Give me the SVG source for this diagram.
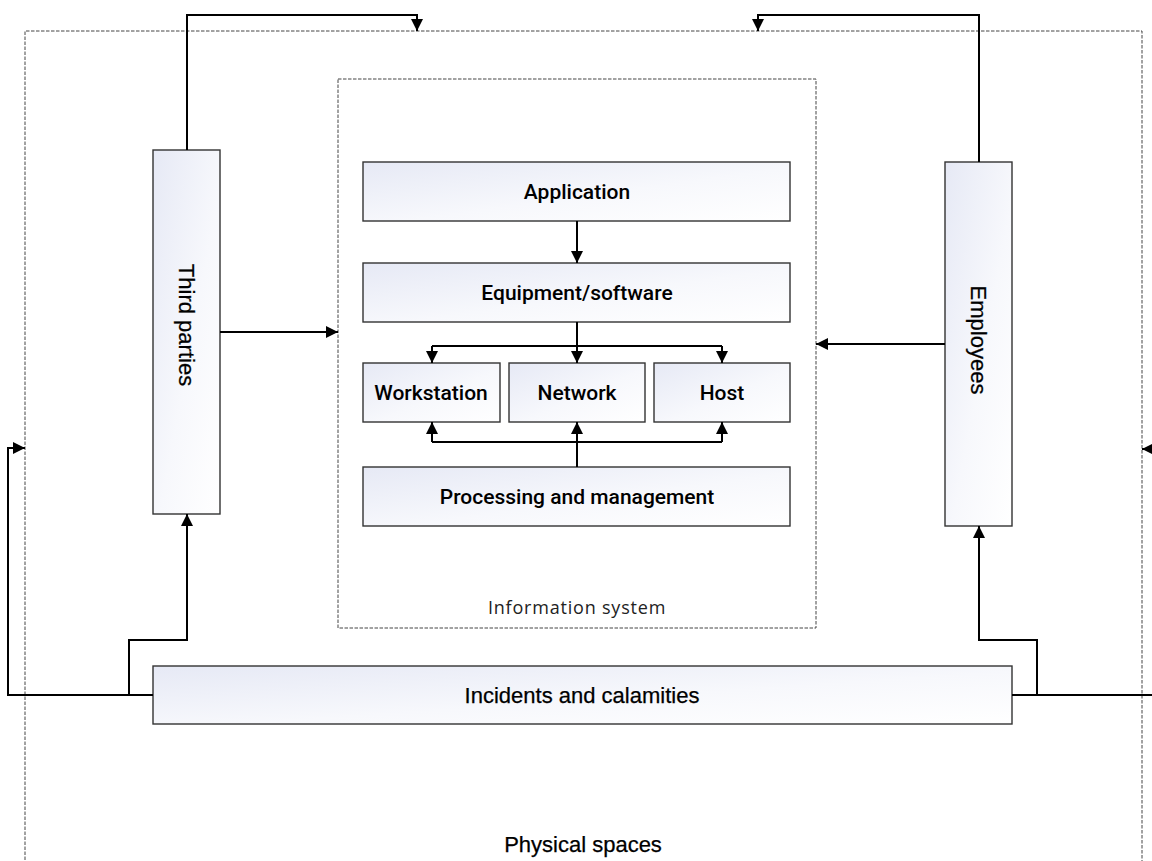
<svg xmlns="http://www.w3.org/2000/svg" width="1152" height="861" viewBox="0 0 1152 861">
  <defs>
    <linearGradient id="g" x1="0" y1="0" x2="1" y2="1">
      <stop offset="0" stop-color="#e6e9f5"/>
      <stop offset="0.55" stop-color="#f7f8fc"/>
      <stop offset="1" stop-color="#ffffff"/>
    </linearGradient>
    <marker id="ah" viewBox="0 0 12 12" markerUnits="userSpaceOnUse" markerWidth="12" markerHeight="12" refX="12" refY="6" orient="auto">
      <path d="M0,0 L12,6 L0,12 z" fill="#000"/>
    </marker>
    <style>
      .box { fill: url(#g); stroke: #333; stroke-width: 1.4; }
      .dash { fill: none; stroke: #444; stroke-width: 1; stroke-dasharray: 3.5 1.5; }
      .c { fill: none; stroke: #000; stroke-width: 2; }
      .a { marker-end: url(#ah); }
      .lbl { font-family: Roboto, "Liberation Sans", sans-serif; font-weight: 500; font-size: 21px; fill: #000; text-anchor: middle; }
      .lbl2 { font-family: "Liberation Sans", Arial, sans-serif; font-size: 22px; fill: #000; text-anchor: middle; stroke: #000; stroke-width: 0.25; }
      .small { font-family: "Open Sans", "Liberation Sans", sans-serif; font-size: 18px; letter-spacing: 0.8px; fill: #222; text-anchor: middle; }
    </style>
  </defs>

  <g id="physical-spaces">
    <path class="dash" d="M25,870 V31 H1142 V870"/>
    <text class="lbl2" x="583" y="852" font-size="21">Physical spaces</text>
  </g>

  <g id="information-system">
    <rect class="dash" x="338" y="79" width="478" height="549"/>
    <text class="small" x="577" y="614">Information system</text>
  </g>

  <g id="application">
    <rect class="box" x="363" y="162" width="427" height="59"/>
    <text class="lbl" x="577" y="199">Application</text>
  </g>
  <g id="equipment-software">
    <rect class="box" x="363" y="263" width="427" height="59"/>
    <text class="lbl" x="577" y="300">Equipment/software</text>
  </g>
  <g id="workstation">
    <rect class="box" x="363" y="363" width="137" height="59"/>
    <text class="lbl" x="431" y="400">Workstation</text>
  </g>
  <g id="network">
    <rect class="box" x="509" y="363" width="136" height="59"/>
    <text class="lbl" x="577" y="400">Network</text>
  </g>
  <g id="host">
    <rect class="box" x="654" y="363" width="136" height="59"/>
    <text class="lbl" x="722" y="400">Host</text>
  </g>
  <g id="processing-management">
    <rect class="box" x="363" y="467" width="427" height="59"/>
    <text class="lbl" x="577" y="504">Processing and management</text>
  </g>

  <g id="third-parties">
    <rect class="box" x="153" y="150" width="67" height="364"/>
    <text class="lbl2" transform="translate(187,325) rotate(90)" y="8">Third parties</text>
  </g>
  <g id="employees">
    <rect class="box" x="945" y="162" width="67" height="364"/>
    <text class="lbl2" transform="translate(979,340) rotate(90)" y="8" font-size="21.5">Employees</text>
  </g>

  <g id="incidents-calamities">
    <rect class="box" x="153" y="666" width="859" height="58"/>
    <text class="lbl2" x="582" y="703">Incidents and calamities</text>
  </g>

  <g id="connectors">
    <path class="c a" d="M187,150 V15 H417 V31"/>
    <path class="c a" d="M979,162 V15 H758 V31"/>
    <path class="c a" d="M220,332 H338"/>
    <path class="c a" d="M945,344 H816"/>
    <path class="c a" d="M577,221 V263"/>
    <path class="c a" d="M577,322 V363"/>
    <path class="c" d="M432,346 H722"/>
    <path class="c a" d="M432,346 V363"/>
    <path class="c a" d="M722,346 V363"/>
    <path class="c a" d="M577,467 V422"/>
    <path class="c" d="M432,442 H722"/>
    <path class="c a" d="M432,442 V422"/>
    <path class="c a" d="M722,442 V422"/>
    <path class="c a" d="M153,695 H8 V448 H25"/>
    <path class="c a" d="M129,695 V640 H187 V514"/>
    <path class="c" d="M1012,695 H1160"/>
    <path class="c a" d="M1037,695 V640 H979 V526"/>
    <path class="c a" d="M1166,449 H1142"/>
  </g>
</svg>
